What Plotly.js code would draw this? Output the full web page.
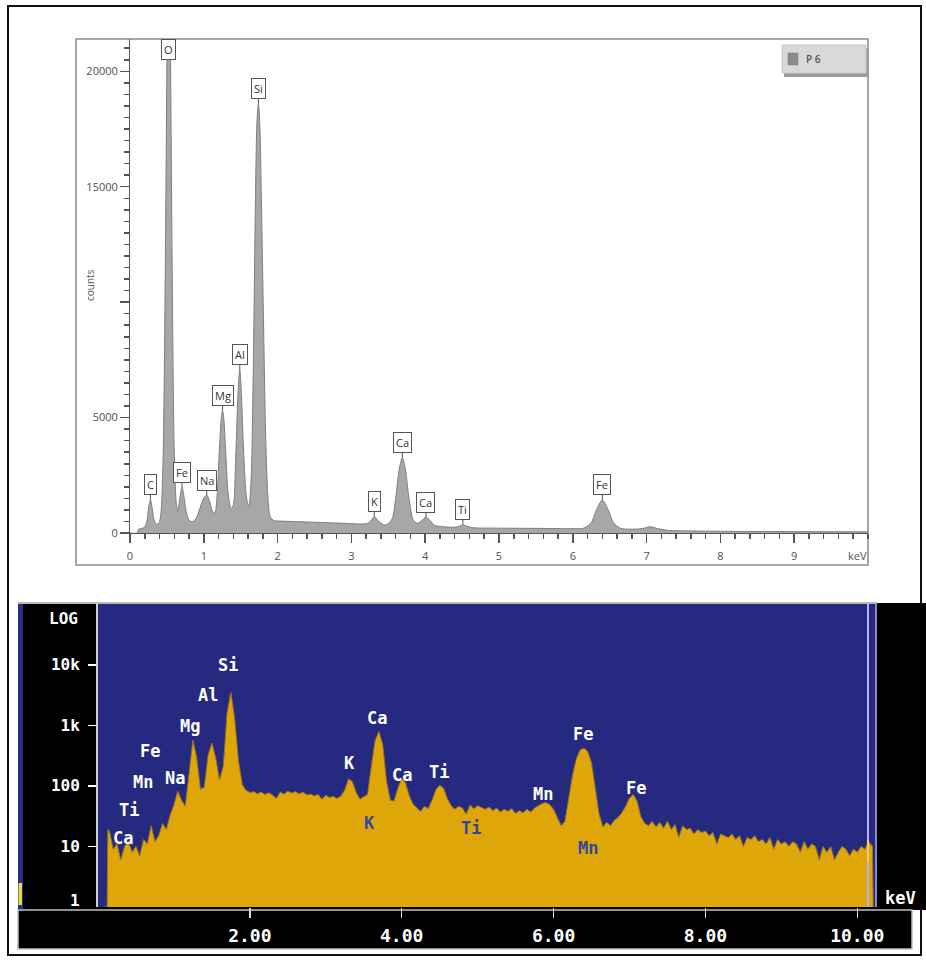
<!DOCTYPE html>
<html><head><meta charset="utf-8">
<script src="https://cdn.plot.ly/plotly-3.0.1.min.js"></script>
<style>html,body{margin:0;padding:0;background:#fff}#chart{width:926px;height:960px}</style>
</head><body><div id="chart"></div>
<script>
// ---------- Top spectrum (linear counts) ----------
const topKeV = [0,0.10,0.11,0.16,0.20,0.23,0.255,0.277,0.30,0.33,0.36,0.39,0.42,0.45,0.48,0.505,0.525,0.545,0.57,0.60,0.63,0.65,0.675,0.705,0.735,0.77,0.81,0.85,0.90,0.95,1.00,1.04,1.08,1.12,1.15,1.18,1.21,1.235,1.254,1.275,1.30,1.33,1.37,1.40,1.43,1.46,1.487,1.51,1.54,1.58,1.61,1.64,1.67,1.70,1.72,1.74,1.76,1.78,1.81,1.84,1.87,1.90,1.95,2.0,2.3,2.6,2.9,3.15,3.22,3.27,3.31,3.35,3.40,3.47,3.55,3.60,3.65,3.69,3.73,3.78,3.84,3.90,3.96,4.01,4.06,4.13,4.25,4.40,4.47,4.51,4.56,4.65,5.0,5.5,6.0,6.15,6.25,6.32,6.40,6.48,6.55,6.65,6.85,6.95,7.05,7.15,7.3,7.6,8.0,8.5,9.0,9.5,10.0];
const topCounts = [0,0,150,200,260,520,1150,1430,1100,520,380,420,900,3500,12000,22000,26000,22000,12000,3500,1200,950,1500,1990,1500,800,520,500,650,1100,1520,1640,1350,930,880,1600,3500,4900,5300,4800,3300,1700,1050,1200,3000,5800,7100,6000,3500,1500,1150,2200,7000,14500,17800,18600,17600,14500,9000,4000,1500,700,540,520,490,450,420,390,420,560,700,570,420,350,600,1500,2800,3260,2800,1500,550,420,560,690,560,330,270,250,300,350,300,230,210,200,190,210,450,1000,1430,1000,450,200,170,200,270,190,110,90,75,65,60,55,50];
const topPeakNames = ['C','Fe','Na','Mg','Al','Si','K','Ca','Ca','Ti','Fe'];
const topPeakKeV = [0.277,0.705,1.04,1.254,1.487,1.74,3.31,3.69,4.01,4.51,6.40];
const topPeakCounts = [1430,1990,1640,5300,7100,18600,700,3260,690,350,1430];
const topOffScaleNames = ['O'];
const topOffScaleKeV = [0.525];
const topXTicks = [0,1,2,3,4,5,6,7,8,9];
const topYTicks = [0,5000,10000,15000,20000];
const topYTickText = ['0','5000','','15000','20000'];
const topSeriesName = 'P 6';

// ---------- Bottom spectrum (log counts) ----------
const botKeV = [0.08,0.12,0.13,0.15,0.20,0.25,0.30,0.35,0.40,0.45,0.50,0.55,0.60,0.65,0.70,0.75,0.80,0.85,0.90,0.95,1.00,1.05,1.10,1.15,1.20,1.25,1.30,1.35,1.40,1.45,1.50,1.55,1.60,1.65,1.70,1.75,1.80,1.85,1.90,1.95,2.00,2.05,2.10,2.15,2.20,2.25,2.30,2.35,2.40,2.45,2.50,2.55,2.60,2.65,2.70,2.75,2.80,2.85,2.90,2.95,3.00,3.05,3.10,3.15,3.20,3.25,3.30,3.35,3.40,3.45,3.50,3.55,3.60,3.65,3.70,3.75,3.80,3.85,3.90,3.95,4.00,4.05,4.10,4.15,4.20,4.25,4.30,4.35,4.40,4.45,4.50,4.55,4.60,4.65,4.70,4.75,4.80,4.85,4.90,4.95,5.00,5.05,5.10,5.15,5.20,5.25,5.30,5.35,5.40,5.45,5.50,5.55,5.60,5.65,5.70,5.75,5.80,5.85,5.90,5.95,6.00,6.05,6.10,6.15,6.20,6.25,6.30,6.35,6.40,6.45,6.50,6.55,6.60,6.65,6.70,6.75,6.80,6.85,6.90,6.95,7.00,7.05,7.10,7.15,7.20,7.25,7.30,7.35,7.40,7.45,7.50,7.55,7.60,7.65,7.70,7.75,7.80,7.85,7.90,7.95,8.00,8.05,8.10,8.15,8.20,8.25,8.30,8.35,8.40,8.45,8.50,8.55,8.60,8.65,8.70,8.75,8.80,8.85,8.90,8.95,9.00,9.05,9.10,9.15,9.20,9.25,9.30,9.35,9.40,9.45,9.50,9.55,9.60,9.65,9.70,9.75,9.80,9.85,9.90,9.95,10.00,10.05,10.10,10.15,10.20,10.21];
const botCounts = [1,1,19,18,9,11,6,10,12,8,10,7,13,11,22,12,15,24,19,33,48,82,58,46,160,570,290,88,95,320,510,290,125,210,1600,3500,1300,260,105,84,78,80,74,79,72,77,70,62,79,73,82,76,80,74,79,71,73,68,72,60,70,64,67,62,68,85,130,118,78,60,66,72,210,560,790,480,120,58,56,92,132,112,68,50,43,38,46,42,58,86,102,92,62,47,41,46,43,34,48,42,47,44,41,45,39,43,37,41,38,42,35,39,36,41,37,43,47,51,53,49,41,30,22,26,62,150,280,390,420,370,240,95,34,21,25,22,27,30,36,46,63,72,56,31,24,22,26,21,25,20,26,19,23,14,22,19,20,16,19,17,18,15,17,11,16,15,14,16,13,15,10,14,13,15,12,13,11,14,9,13,11,12,10,12,11,8,12,9,11,10,6,10,8,10,6,8,10,9,7,9,8,10,9,12,10,1];
const botLabelNames = ['Ca','Ti','Mn','Fe','Na','Mg','Al','Si','K','Ca','Ca','Ti','Mn','Fe','Fe','K','Ti','Mn'];
const botLabelKeV = [0.33,0.41,0.59,0.685,1.01,1.21,1.45,1.71,3.31,3.68,4.01,4.49,5.86,6.39,7.08,3.58,4.91,6.46];
const botLabelLog = [1.14,1.60,2.06,2.58,2.13,2.99,3.50,4.00,2.38,3.12,2.18,2.23,1.87,2.86,1.96,1.39,1.30,0.97];
const botLabelInside = [false,false,false,false,false,false,false,false,false,false,false,false,false,false,false,true,true,true];
const botXTicks = [2,4,6,8,10];
const botYTicks = [10,100,1000,10000];
const botYTickText = ['10','100','1k','10k'];

// ---------- layout helpers (pixel -> paper) ----------
const W = 926, H = 960;
const fx = p => p / W;
const fy = p => 1 - p / H;
const NAVY = '#252a80', GOLD = '#dfa60a';
const mono = 'DejaVu Sans Mono, monospace';
const sans = 'Open Sans, Noto Sans, sans-serif';

const traces = [
  {x: topKeV, y: topCounts, xaxis: 'x', yaxis: 'y', type: 'scatter', mode: 'lines',
   name: topSeriesName, fill: 'tozeroy', fillcolor: '#a7a7a7',
   line: {color: '#7e7e7e', width: 1, shape: 'spline', smoothing: 0.8}, showlegend: false},
  {x: botKeV, y: botCounts, xaxis: 'x2', yaxis: 'y2', type: 'scatter', mode: 'lines',
   name: 'log', fill: 'tozeroy', fillcolor: GOLD,
   line: {color: '#9a7418', width: 1}, showlegend: false}
];

function rect(x0, y0, x1, y1, fill, lineColor, lineWidth, layer) {
  return {type: 'rect', xref: 'paper', yref: 'paper', x0: fx(x0), x1: fx(x1), y0: fy(y1), y1: fy(y0),
    fillcolor: fill || 'rgba(0,0,0,0)', line: {color: lineColor || 'rgba(0,0,0,0)', width: lineWidth || 0},
    layer: layer || 'below'};
}
function seg(x0, y0, x1, y1, color, width, layer) {
  return {type: 'line', xref: 'paper', yref: 'paper', x0: fx(x0), x1: fx(x1), y0: fy(y0), y1: fy(y1),
    line: {color: color, width: width}, layer: layer || 'below'};
}
function paperText(x, y, text, font, xanchor, extra) {
  return Object.assign({xref: 'paper', yref: 'paper', x: fx(x), y: fy(y), text: text, showarrow: false,
    xanchor: xanchor || 'center', yanchor: 'middle', font: font}, extra || {});
}

const shapes = [
  rect(8, 6, 921, 955, null, '#111', 2),
  rect(18, 603, 926, 910, '#000'),
  rect(98, 603, 877, 907, NAVY),
  rect(18, 603, 23, 910, '#2a2f8a'),
  rect(18.5, 883, 22, 905, '#e6dc3c'),
  seg(18, 603, 877, 603, '#b8b8b8', 2),
  seg(876, 603, 876, 907, '#a8a8e0', 1.5),
  seg(868, 603, 868, 907, '#b4b4f0', 2, 'above'),
  seg(868, 840, 868, 862, '#f0d060', 2, 'above'),
  rect(18, 910, 912, 949, '#000', '#c0c0c0', 1.5),
  rect(76, 39, 868, 565, null, '#8a8a8a', 1.5),
  // legend box (shadow, box, swatch)
  rect(784, 48, 869, 77, '#9c9c9c', null, 0, 'above'),
  rect(782, 45, 866, 73, '#d9d9d9', '#c6c6c6', 1, 'above'),
  rect(788, 53, 798, 65, '#8a8a8a', '#7a7a7a', 0.5, 'above')
];

const annotations = [];
annotations.push(paperText(804, 59, topSeriesName, {family: sans, size: 10, color: '#555', weight: 600}, 'left'));
topPeakNames.forEach((n, i) => annotations.push({
  xref: 'x', yref: 'y', x: topPeakKeV[i], y: topPeakCounts[i], text: n,
  showarrow: true, arrowhead: 0, arrowwidth: 1, arrowcolor: '#555', ax: 0, ay: -15, standoff: 0,
  bgcolor: '#fff', bordercolor: '#555', borderwidth: 1, borderpad: 2,
  font: {family: sans, size: 11, color: '#333'}
}));
topOffScaleNames.forEach((n, i) => annotations.push({
  xref: 'x', yref: 'y domain', x: topOffScaleKeV[i], y: 1, xanchor: 'center', yanchor: 'top', text: n, showarrow: false,
  bgcolor: '#fff', bordercolor: '#555', borderwidth: 1, borderpad: 2,
  font: {family: sans, size: 11, color: '#333'}
}));
annotations.push(paperText(857, 555, 'keV', {family: sans, size: 11, color: '#555'}));
annotations.push(paperText(90, 285, 'counts', {family: sans, size: 10, color: '#555'}, 'center', {textangle: -90}));

botLabelNames.forEach((n, i) => annotations.push({
  xref: 'x2', yref: 'y2', x: botLabelKeV[i], y: botLabelLog[i], text: n, showarrow: false,
  xanchor: 'center', yanchor: 'middle',
  font: {family: mono, size: 17, weight: 'bold', color: botLabelInside[i] ? '#34469a' : '#ffffff'}
}));
annotations.push(paperText(63, 618, 'LOG', {family: mono, size: 16, weight: 'bold', color: '#fff'}));
annotations.push(paperText(82, 900, '1', {family: mono, size: 16, weight: 'bold', color: '#fff'}, 'right'));
annotations.push(paperText(900, 898, 'keV', {family: mono, size: 17, weight: 'bold', color: '#fff'}));

const layout = {
  width: W, height: H, margin: {l: 0, r: 0, t: 0, b: 0},
  paper_bgcolor: '#fff', plot_bgcolor: 'rgba(0,0,0,0)',
  hovermode: false, showlegend: false,
  xaxis: {domain: [fx(130), fx(868)], range: [0, 10], anchor: 'y', showline: true, linecolor: '#555', linewidth: 1,
    ticks: 'outside', ticklen: 9, tickwidth: 1.5, tickcolor: '#555', tickvals: topXTicks,
    tickfont: {family: sans, size: 11, color: '#505050'}, ticklabelstandoff: 4,
    minor: {tickmode: 'linear', tick0: 0, dtick: 0.2, ticks: 'outside', ticklen: 5, tickcolor: '#555', showgrid: false},
    showgrid: false, zeroline: false},
  yaxis: {domain: [fy(533), fy(39)], range: [0, 21400], anchor: 'x', showline: true, linecolor: '#555', linewidth: 1,
    ticks: 'outside', ticklen: 9, tickwidth: 1.5, tickcolor: '#555', tickvals: topYTicks, ticktext: topYTickText,
    tickfont: {family: sans, size: 11, color: '#505050'},
    minor: {tickmode: 'linear', tick0: 0, dtick: 500, ticks: 'outside', ticklen: 5, tickcolor: '#555', showgrid: false},
    showgrid: false, zeroline: false},
  xaxis2: {domain: [fx(98), fx(877)], range: [0, 10.26], anchor: 'y2', showline: false,
    ticks: 'outside', ticklen: 10, tickwidth: 1.5, tickcolor: '#dddddd', tickvals: botXTicks, tickformat: '.2f',
    tickfont: {family: mono, size: 18, weight: 'bold', color: '#fff'}, ticklabelstandoff: 2,
    showgrid: false, zeroline: false},
  yaxis2: {type: 'log', domain: [fy(907), fy(603)], range: [0, 5.02], anchor: 'x2', showline: true,
    linecolor: '#d0d0d0', linewidth: 2, ticks: 'outside', ticklen: 8, tickwidth: 1.5, tickcolor: '#fff',
    tickvals: botYTicks, ticktext: botYTickText, ticklabelstandoff: 5,
    tickfont: {family: mono, size: 16, weight: 'bold', color: '#fff'},
    showgrid: false, zeroline: false},
  shapes: shapes,
  annotations: annotations
};

Plotly.newPlot('chart', traces, layout, {staticPlot: true, displayModeBar: false});
</script></body></html>
